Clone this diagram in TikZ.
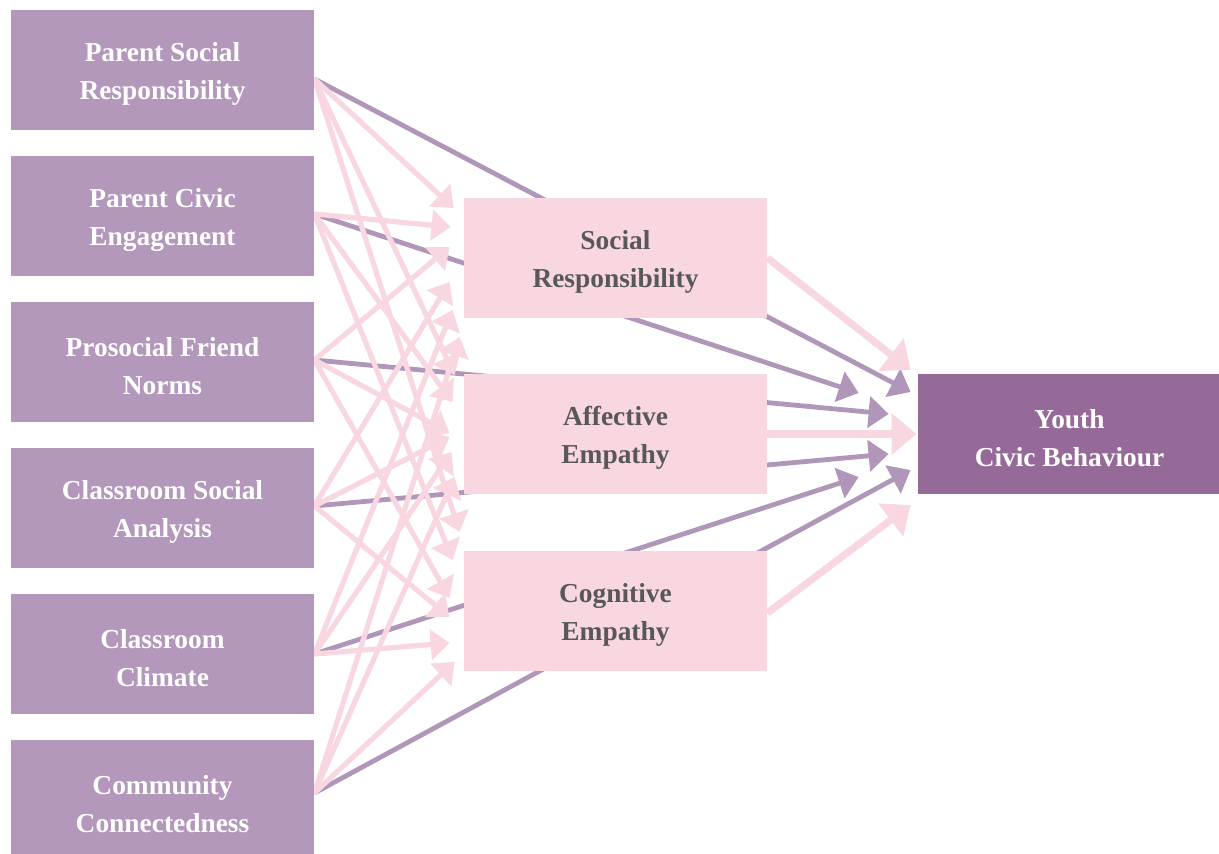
\documentclass[tikz,border=0pt]{standalone}
\usepackage{fontspec}
\setmainfont{Liberation Serif}
\usetikzlibrary{arrows.meta,calc}
\pgfdeclarelayer{bg}
\pgfsetlayers{bg,main}

\definecolor{factorfill}{HTML}{B398BB}
\definecolor{mediatorfill}{HTML}{F8D7E1}
\definecolor{outcomefill}{HTML}{956A98}
\definecolor{mediatortext}{HTML}{58585A}
\definecolor{directline}{HTML}{B096B9}

\newcommand{\tstrut}{\rule{0pt}{13.6pt}}

\begin{document}
\begin{tikzpicture}[x=0.5pt, y=-0.5pt,
    box/.style={minimum width=151.5pt, minimum height=60pt, inner sep=0pt,
                align=center, font=\bfseries\fontsize{13.7}{19}\selectfont},
    factor/.style={box, fill=factorfill, text=white},
    mediator/.style={box, fill=mediatorfill, text=mediatortext},
    outcome/.style={box, fill=outcomefill, text=white},
    indirect/.style={draw=mediatorfill, line width=2.6pt,
                     -{Triangle[length=9.5pt, width=15pt]}},
    direct/.style={draw=directline, line width=2.4pt,
                   -{Triangle[length=10pt, width=15.5pt]}},
    total/.style={draw=mediatorfill, line width=3.6pt,
                  -{Triangle[length=12.5pt, width=20pt]}}]
  \useasboundingbox (0, 0) rectangle (1219, 854);

  \node[factor]   (psr) at ( 162.5,  70) {\tstrut Parent Social\\Responsibility};
  \node[factor]   (pce) at ( 162.5, 216) {\tstrut Parent Civic\\Engagement};
  \node[factor]   (pfn) at ( 162.5, 362) {\tstrut Prosocial Friend\\Norms};
  \node[factor]   (csa) at ( 162.5, 508) {\tstrut Classroom Social\\Analysis};
  \node[factor]   (ccl) at ( 162.5, 654) {\tstrut Classroom\\Climate};
  \node[factor]   (cco) at ( 162.5, 800) {\tstrut Community\\Connectedness};

  \node[mediator] (sr)  at ( 615.5, 258) {\tstrut Social\\Responsibility};
  \node[mediator] (ae)  at ( 615.5, 434) {\tstrut Affective\\Empathy};
  \node[mediator] (ce)  at ( 615.5, 611) {\tstrut Cognitive\\Empathy};

  \node[outcome]  (ycb) at (1069.5, 434) {\tstrut Youth\\Civic Behaviour};

  \begin{pgfonlayer}{bg}
  \draw[direct]   ($(psr.east)+(0,  9)$) -- ($(ycb.west)+( -7, -42)$);
  \draw[direct]   ($(pce.east)+(0, -2)$) -- ($(ycb.west)+(-59, -41)$);
  \draw[direct]   ($(pfn.east)+(0, -2)$) -- ($(ycb.west)+(-29, -20)$);
  \draw[direct]   ($(csa.east)+(0, -2)$) -- ($(ycb.west)+(-29,  20)$);
  \draw[direct]   ($(ccl.east)+(0,  0)$) -- ($(ycb.west)+(-59,  43)$);
  \draw[direct]   ($(cco.east)+(0, -7)$) -- ($(ycb.west)+( -7,  36)$);

  \draw[indirect] ($(psr.east)+(0,  9)$) -- ($(sr.west)+(-10, -50)$);
  \draw[indirect] ($(pce.east)+(0, -2)$) -- ($(sr.west)+(-13, -31)$);
  \draw[indirect] ($(pfn.east)+(0, -2)$) -- ($(sr.west)+(-14, -11)$);
  \draw[indirect] ($(csa.east)+(0, -2)$) -- ($(sr.west)+(-14,  24)$);
  \draw[indirect] ($(ccl.east)+(0,  0)$) -- ($(sr.west)+(-11,  52)$);
  \draw[indirect] ($(cco.east)+(0, -7)$) -- ($(sr.west)+( -4,  79)$);

  \draw[indirect] ($(psr.east)+(0,  9)$) -- ($(ae.west)+( -9, -59)$);
  \draw[indirect] ($(pce.east)+(0, -2)$) -- ($(ae.west)+(-11, -32)$);
  \draw[indirect] ($(pfn.east)+(0, -2)$) -- ($(ae.west)+(-14,  -1)$);
  \draw[indirect] ($(csa.east)+(0, -2)$) -- ($(ae.west)+(-14,   3)$);
  \draw[indirect] ($(ccl.east)+(0,  0)$) -- ($(ae.west)+(-12,  18)$);
  \draw[indirect] ($(cco.east)+(0, -7)$) -- ($(ae.west)+( -9,  43)$);

  \draw[indirect] ($(psr.east)+(0,  9)$) -- ($(ce.west)+( -4, -79)$);
  \draw[indirect] ($(pce.east)+(0, -2)$) -- ($(ce.west)+(-11, -51)$);
  \draw[indirect] ($(pfn.east)+(0, -2)$) -- ($(ce.west)+(-14, -13)$);
  \draw[indirect] ($(csa.east)+(0, -2)$) -- ($(ce.west)+(-14,   6)$);
  \draw[indirect] ($(ccl.east)+(0,  0)$) -- ($(ce.west)+(-14,  32)$);
  \draw[indirect] ($(cco.east)+(0, -7)$) -- ($(ce.west)+( -9,  51)$);

  \draw[total]    (sr.east)              -- ($(ycb.west)+( -7, -64)$);
  \draw[total]    (ae.east)              -- ($(ycb.west)+( -1,   0)$);
  \draw[total]    ($(ce.east)+(0,  2)$)  -- ($(ycb.west)+( -7,  71)$);
  \end{pgfonlayer}

\end{tikzpicture}
\end{document}
